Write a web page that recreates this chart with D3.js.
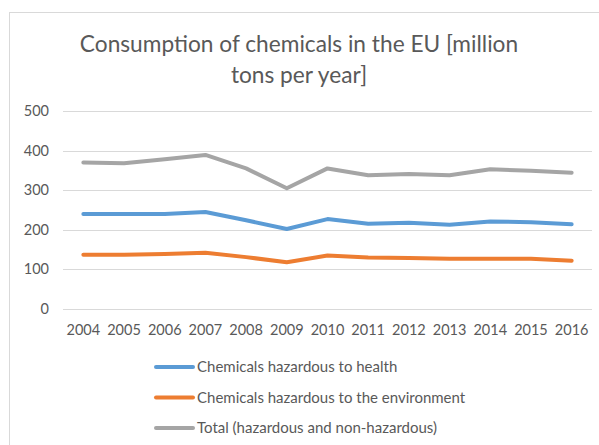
<!DOCTYPE html>
<html>
<head>
<meta charset="utf-8">
<script src="https://cdn.jsdelivr.net/npm/d3@7"></script>
<style>
  body { margin: 0; background: #fff; }
  svg { display: block; font-family: Lato, "Open Sans", sans-serif; }
</style>
</head>
<body>
<svg id="chart" width="599" height="445"></svg>
<script>
const years = ["2004", "2005", "2006", "2007", "2008", "2009", "2010", "2011", "2012", "2013", "2014", "2015", "2016"];
const health = [240, 240, 240, 245, 224, 202, 227, 215, 218, 213, 221, 219, 214];
const environment = [137, 137, 139, 142, 131, 118, 135, 130, 129, 127, 127, 127, 122];
const total = [370, 368, 378, 389, 355, 305, 355, 338, 341, 338, 353, 349, 344];
const yTicks = [0, 100, 200, 300, 400, 500];
const seriesNames = ["Chemicals hazardous to health", "Chemicals hazardous to the environment", "Total (hazardous and non-hazardous)"];
const seriesColors = ["#5B9BD5", "#ED7D31", "#A5A5A5"];

const svg = d3.select("#chart");
const textColor = "#595959";

// chart frame (cropped on right and bottom)
svg.append("rect")
  .attr("x", 9.5).attr("y", 12.5)
  .attr("width", 620).attr("height", 460)
  .attr("fill", "none").attr("stroke", "#D9D9D9");

// title
const title = svg.append("text")
  .attr("text-anchor", "middle")
  .attr("fill", textColor)
  .style("font-size", "22.7px");
title.append("tspan").attr("x", 299).attr("y", 52).text("Consumption of chemicals in the EU [million");
title.append("tspan").attr("x", 299).attr("y", 83).text("tons per year]");

const x = d3.scaleBand().domain(years).range([63, 592]);
const y = d3.scaleLinear().domain([0, 500]).range([309, 111]);

// gridlines
svg.append("g")
  .selectAll("line")
  .data(yTicks)
  .join("line")
  .attr("x1", 63).attr("x2", 592)
  .attr("y1", d => Math.round(y(d)) + 0.5)
  .attr("y2", d => Math.round(y(d)) + 0.5)
  .attr("stroke", "#D9D9D9");

// y axis labels
svg.append("g")
  .selectAll("text")
  .data(yTicks)
  .join("text")
  .attr("x", 49)
  .attr("y", d => y(d) + 5)
  .attr("text-anchor", "end")
  .attr("fill", textColor)
  .style("font-size", "14.5px")
  .text(d => d);

// x axis labels
svg.append("g")
  .selectAll("text")
  .data(years)
  .join("text")
  .attr("x", d => x(d) + x.bandwidth() / 2)
  .attr("y", 335)
  .attr("text-anchor", "middle")
  .attr("fill", textColor)
  .style("font-size", "14.5px")
  .text(d => d);

// lines
const line = d3.line()
  .x((d, i) => x(years[i]) + x.bandwidth() / 2)
  .y(d => y(d));

[health, environment, total].forEach((vals, i) => {
  svg.append("path")
    .datum(vals)
    .attr("d", line)
    .attr("fill", "none")
    .attr("stroke", seriesColors[i])
    .attr("stroke-width", 4)
    .attr("stroke-linejoin", "round")
    .attr("stroke-linecap", "round");
});

// legend
const legend = svg.append("g")
  .selectAll("g")
  .data(seriesNames)
  .join("g")
  .attr("transform", (d, i) => `translate(156, ${367 + i * 30.5})`);

legend.append("line")
  .attr("x1", 0).attr("x2", 37)
  .attr("y1", 0).attr("y2", 0)
  .attr("stroke", (d, i) => seriesColors[i])
  .attr("stroke-width", 4)
  .attr("stroke-linecap", "round");

legend.append("text")
  .attr("x", 41)
  .attr("y", 5)
  .attr("fill", textColor)
  .style("font-size", "15px")
  .text(d => d);
</script>
</body>
</html>
